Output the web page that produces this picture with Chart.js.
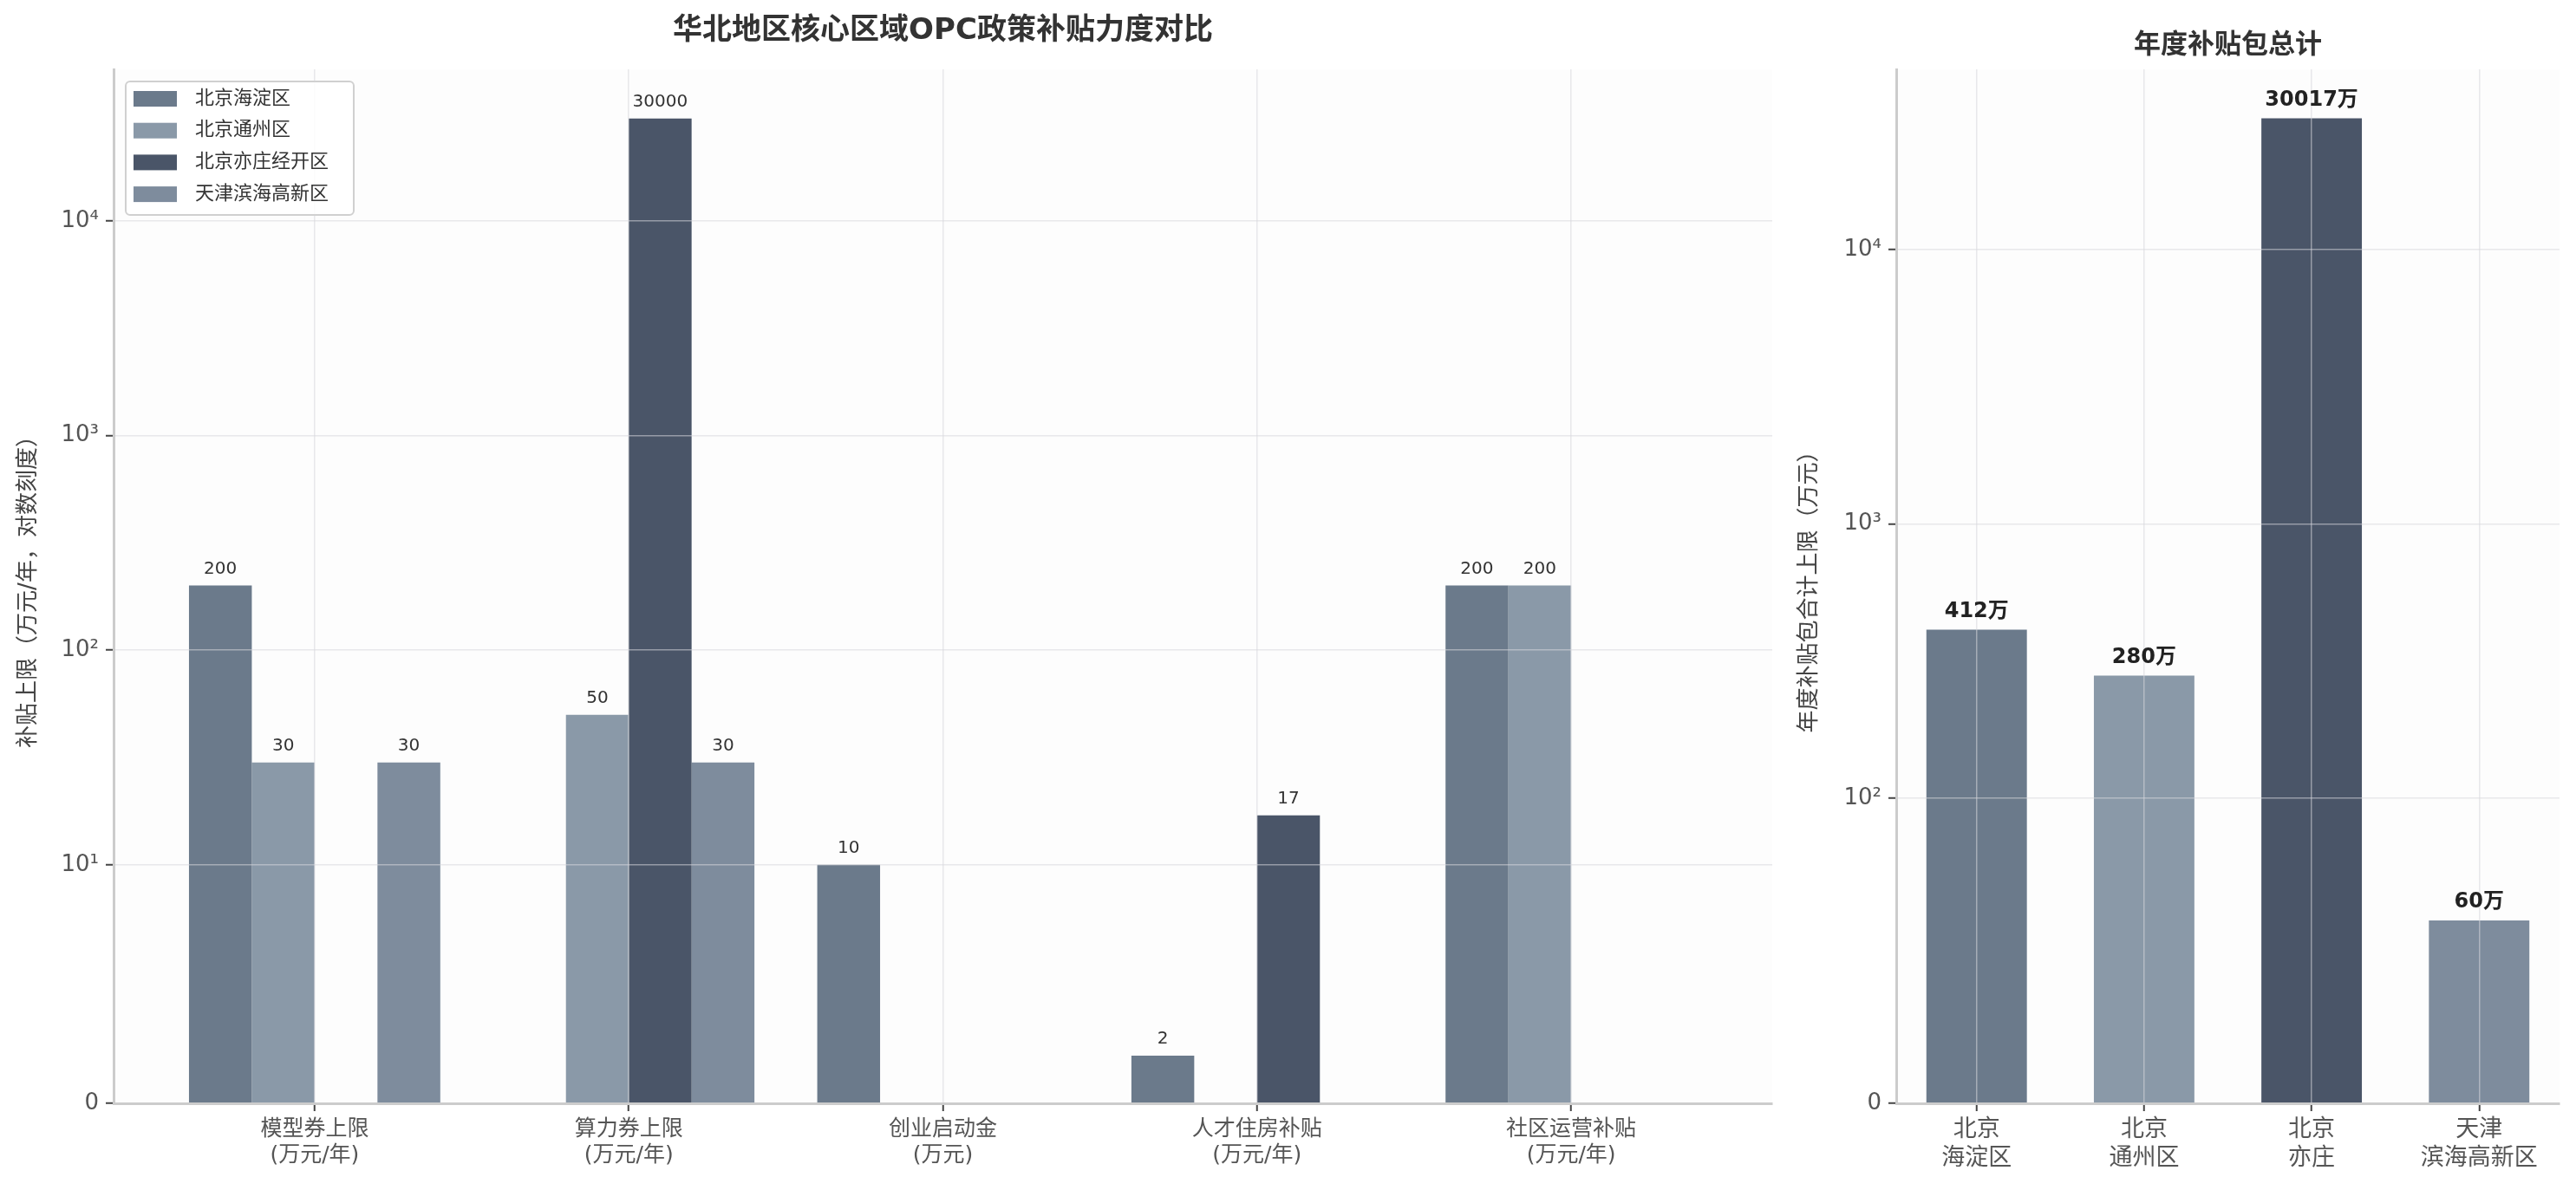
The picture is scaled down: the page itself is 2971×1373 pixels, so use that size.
<!DOCTYPE html>
<html>
<head>
<meta charset="utf-8">
<script src="https://cdn.jsdelivr.net/npm/chart.js@4.4.1/dist/chart.umd.min.js"></script>
<style>
  html, body { margin: 0; padding: 0; background: #fff; }
  body { width: 2971px; height: 1373px; position: relative; overflow: hidden; }
  canvas { position: absolute; top: 0; }
  #leftChart { left: 0; }
  #rightChart { left: 2060px; }
</style>
</head>
<body>
<canvas id="leftChart" width="2060" height="1373"></canvas>
<canvas id="rightChart" width="911" height="1373"></canvas>
<script>
// ---- data ----
const policyItems = [
  ['模型券上限', '(万元/年)'],
  ['算力券上限', '(万元/年)'],
  ['创业启动金', '(万元)'],
  ['人才住房补贴', '(万元/年)'],
  ['社区运营补贴', '(万元/年)']
];
const districts = ['北京海淀区', '北京通州区', '北京亦庄经开区', '天津滨海高新区'];
const haidianValues = [200, null, 10, 2, 200];
const tongzhouValues = [30, 50, null, null, 200];
const yizhuangValues = [null, 30000, null, 17, null];
const tianjinValues = [30, 30, null, null, null];
const totalLabels = [['北京', '海淀区'], ['北京', '通州区'], ['北京', '亦庄'], ['天津', '滨海高新区']];
const totalValues = [412, 280, 30017, 60];
const leftTicks = [0, 10, 100, 1000, 10000];
const rightTicks = [0, 100, 1000, 10000];

const barColors = ['#6b7a8b', '#8a99a8', '#4a5568', '#7e8c9d'];
const gridColor = 'rgba(215,215,220,0.55)';

Chart.defaults.font.family = "'DejaVu Sans', 'Noto Sans CJK SC', sans-serif";
Chart.defaults.color = '#555';

// symlog scale like matplotlib (base 10, linscale 1)
const LINSCALE = 1 / (1 - 1 / 10);
function symT(v, th) {
  const a = Math.abs(v), s = v < 0 ? -1 : 1;
  return a <= th ? s * a / th * LINSCALE : s * (LINSCALE + Math.log10(a / th));
}
function symInv(t, th) {
  const a = Math.abs(t), s = t < 0 ? -1 : 1;
  return a <= LINSCALE ? s * a / LINSCALE * th : s * th * Math.pow(10, a - LINSCALE);
}

class SymlogScale extends Chart.Scale {
  determineDataLimits() {
    this.min = this.options.min ?? 0;
    this.max = this.options.max;
  }
  buildTicks() { return []; }
  configure() {
    super.configure();
    const th = this.options.linthresh;
    this._t0 = symT(this.min, th);
    this._t1 = symT(this.max, th);
  }
  getPixelForValue(v) {
    const t = symT(v, this.options.linthresh);
    return this.getPixelForDecimal((t - this._t0) / (this._t1 - this._t0));
  }
  getValueForPixel(p) {
    const d = this.getDecimalForPixel(p);
    return symInv(this._t0 + d * (this._t1 - this._t0), this.options.linthresh);
  }
  getLabelForValue(v) { return String(v); }
}
SymlogScale.id = 'symlog';
SymlogScale.defaults = {};
Chart.register(SymlogScale);

const SUP = {'0': '⁰', '1': '¹', '2': '²', '3': '³', '4': '⁴', '5': '⁵'};
function powLabel(v) {
  if (v === 0) return '0';
  const e = String(Math.round(Math.log10(v)));
  return '10' + e.split('').map(c => SUP[c]).join('');
}

// ---- plugins ----
const plotBg = {
  id: 'plotBg',
  beforeDraw(chart) {
    const a = chart.chartArea, ctx = chart.ctx;
    ctx.save();
    ctx.fillStyle = '#fdfdfd';
    ctx.fillRect(a.left, a.top, a.right - a.left, a.bottom - a.top);
    ctx.restore();
  }
};

const valueLabels = {
  id: 'valueLabels',
  afterDraw(chart, args, opts) {
    const ctx = chart.ctx;
    ctx.save();
    ctx.font = opts.font;
    ctx.fillStyle = opts.color;
    ctx.textAlign = 'center';
    ctx.textBaseline = 'bottom';
    chart.data.datasets.forEach((ds, di) => {
      chart.getDatasetMeta(di).data.forEach((bar, i) => {
        const v = ds.data[i].y;
        if (v === null) return;
        ctx.fillText(v + opts.suffix, bar.x, bar.y - opts.gap);
      });
    });
    ctx.restore();
  }
};

const panelTitle = {
  id: 'panelTitle',
  afterDraw(chart, args, opts) {
    const a = chart.chartArea, ctx = chart.ctx;
    ctx.save();
    ctx.font = opts.font;
    ctx.fillStyle = '#333';
    ctx.textAlign = 'center';
    ctx.textBaseline = 'middle';
    ctx.fillText(opts.text, (a.left + a.right) / 2, opts.y);
    ctx.restore();
  }
};

const boxLegend = {
  id: 'boxLegend',
  afterDraw(chart) {
    const ctx = chart.ctx;
    ctx.save();
    ctx.beginPath();
    ctx.roundRect(145, 94, 263, 154, 5);
    ctx.fillStyle = 'rgba(255,255,255,0.85)';
    ctx.fill();
    ctx.strokeStyle = '#d0d0d0';
    ctx.lineWidth = 2;
    ctx.stroke();
    ctx.font = "22px 'DejaVu Sans', 'Noto Sans CJK SC', sans-serif";
    ctx.textBaseline = 'middle';
    chart.data.datasets.forEach((ds, i) => {
      const cy = 114 + i * 36.7;
      ctx.fillStyle = ds.backgroundColor;
      ctx.fillRect(154, cy - 9, 50, 18);
      ctx.fillStyle = '#333';
      ctx.fillText(ds.label, 225, cy);
    });
    ctx.restore();
  }
};

// ---- left chart ----
const seriesValues = [haidianValues, tongzhouValues, yizhuangValues, tianjinValues];

new Chart(document.getElementById('leftChart'), {
  type: 'bar',
  data: {
    datasets: districts.map((name, k) => ({
      label: name,
      data: seriesValues[k].map((v, i) => ({x: i, y: v})),
      backgroundColor: barColors[k],
      borderWidth: 0,
      categoryPercentage: 0.8,
      barPercentage: 1.0
    }))
  },
  options: {
    responsive: false,
    animation: false,
    layout: {padding: {top: 80, right: 16, left: 0, bottom: 0}},
    plugins: {
      legend: {display: false},
      tooltip: {enabled: false},
      valueLabels: {font: "20px 'DejaVu Sans', sans-serif", color: '#333', suffix: '', gap: 9},
      panelTitle: {text: '华北地区核心区域OPC政策补贴力度对比', font: "bold 34px 'DejaVu Sans', 'Noto Sans CJK SC', sans-serif", y: 36}
    },
    scales: {
      x: {
        type: 'linear', min: -0.64, max: 4.64, bounds: 'data', offset: false,
        afterBuildTicks: s => { s.ticks = policyItems.map((_, i) => ({value: i})); },
        afterFit: s => { s.height = 100; },
        ticks: {callback: v => policyItems[v], color: '#555', font: {size: 25}, padding: 6, maxRotation: 0, autoSkip: false},
        grid: {offset: false, color: gridColor, lineWidth: 1.5, tickLength: 9, tickColor: '#444', tickWidth: 2, z: 1},
        border: {color: '#cccccc', width: 3, z: 2}
      },
      y: {
        type: 'symlog', linthresh: 10, min: 0, max: 50800,
        afterBuildTicks: s => { s.ticks = leftTicks.map(v => ({value: v})); },
        afterFit: s => { s.width = 131; },
        ticks: {callback: v => powLabel(v), color: '#555', font: {size: 26}, padding: 8},
        grid: {color: gridColor, lineWidth: 1.5, tickLength: 9, tickColor: '#444', tickWidth: 2, z: 1},
        border: {color: '#cccccc', width: 3, z: 2},
        title: {display: true, text: '补贴上限（万元/年，对数刻度）', color: '#444', font: {size: 26}, padding: {top: 18, bottom: 0}}
      }
    }
  },
  plugins: [plotBg, valueLabels, panelTitle, boxLegend]
});

// ---- right chart ----
new Chart(document.getElementById('rightChart'), {
  type: 'bar',
  data: {
    datasets: [{
      label: '年度补贴包合计',
      data: totalValues.map((v, i) => ({x: i, y: v})),
      backgroundColor: barColors,
      borderWidth: 0,
      categoryPercentage: 0.6,
      barPercentage: 1.0
    }]
  },
  options: {
    responsive: false,
    animation: false,
    layout: {padding: {top: 80, right: 19, left: 0, bottom: 0}},
    plugins: {
      legend: {display: false},
      tooltip: {enabled: false},
      valueLabels: {font: "bold 24px 'DejaVu Sans', 'Noto Sans CJK SC', sans-serif", color: '#222', suffix: '万', gap: 9},
      panelTitle: {text: '年度补贴包总计', font: "bold 31px 'DejaVu Sans', 'Noto Sans CJK SC', sans-serif", y: 53}
    },
    scales: {
      x: {
        type: 'linear', min: -0.48, max: 3.48, bounds: 'data', offset: false,
        afterBuildTicks: s => { s.ticks = totalLabels.map((_, i) => ({value: i})); },
        afterFit: s => { s.height = 100; },
        ticks: {callback: v => totalLabels[v], color: '#555', font: {size: 27, lineHeight: 1.22}, padding: 6, maxRotation: 0, autoSkip: false},
        grid: {offset: false, color: gridColor, lineWidth: 1.5, tickLength: 9, tickColor: '#444', tickWidth: 2, z: 1},
        border: {color: '#cccccc', width: 3, z: 2}
      },
      y: {
        type: 'symlog', linthresh: 100, min: 0, max: 45300,
        afterBuildTicks: s => { s.ticks = rightTicks.map(v => ({value: v})); },
        afterFit: s => { s.width = 127; },
        ticks: {callback: v => powLabel(v), color: '#555', font: {size: 26}, padding: 8},
        grid: {color: gridColor, lineWidth: 1.5, tickLength: 9, tickColor: '#444', tickWidth: 2, z: 1},
        border: {color: '#cccccc', width: 3, z: 2},
        title: {display: true, text: '年度补贴包合计上限（万元）', color: '#444', font: {size: 26}, padding: {top: 12, bottom: 0}}
      }
    }
  },
  plugins: [plotBg, valueLabels, panelTitle]
});
</script>
</body>
</html>
